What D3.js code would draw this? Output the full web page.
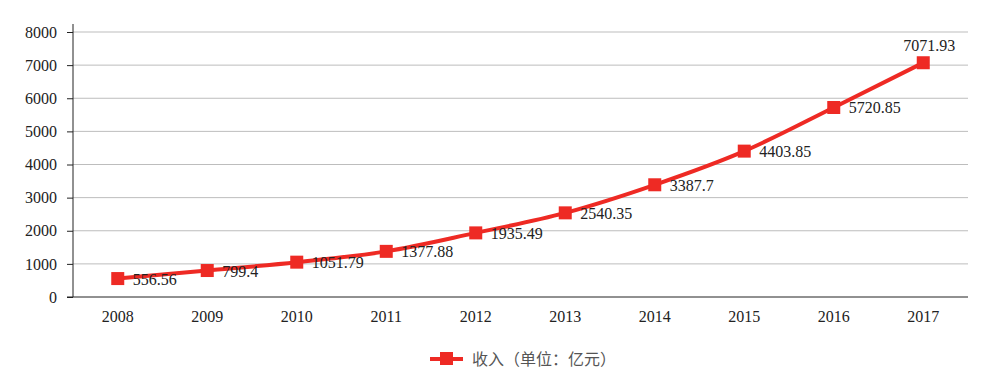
<!DOCTYPE html>
<html>
<head>
<meta charset="utf-8">
<script src="https://cdn.jsdelivr.net/npm/d3@7"></script>
<style>
  body { margin: 0; background: #fff; }
  svg { display: block; }
</style>
</head>
<body>
<div id="chart"></div>
<script>
const years = ['2008', '2009', '2010', '2011', '2012', '2013', '2014', '2015', '2016', '2017'];
const revenue = [556.56, 799.4, 1051.79, 1377.88, 1935.49, 2540.35, 3387.7, 4403.85, 5720.85, 7071.93];
const yTicks = [0, 1000, 2000, 3000, 4000, 5000, 6000, 7000, 8000];
const seriesName = '收入（单位：亿元）';

const width = 996, height = 389;
const margin = { left: 73, right: 28, top: 32, bottom: 92 };
const red = '#ee2a24';
const serif = '"Liberation Serif", "DejaVu Serif", serif';

const svg = d3.select('#chart').append('svg')
  .attr('width', width)
  .attr('height', height);

const x = d3.scaleBand()
  .domain(years)
  .range([margin.left, width - margin.right]);

const y = d3.scaleLinear()
  .domain([0, 8000])
  .range([height - margin.bottom, margin.top]);

// grid lines
svg.append('g')
  .selectAll('line')
  .data(yTicks.filter(d => d > 0))
  .enter()
  .append('line')
  .attr('x1', margin.left)
  .attr('x2', width - margin.right)
  .attr('y1', d => y(d))
  .attr('y2', d => y(d))
  .attr('stroke', '#bdbdbd')
  .attr('stroke-width', 1);

// y axis
const yAxis = svg.append('g')
  .attr('transform', `translate(${margin.left},0)`)
  .call(d3.axisLeft(y).tickValues(yTicks).tickSize(6).tickPadding(10).tickFormat(d3.format('d')));
yAxis.select('.domain').attr('d', `M0,${margin.top - 8}V${y(0)}`).attr('stroke', '#222');
yAxis.selectAll('.tick line').attr('stroke', '#222');
yAxis.selectAll('text').attr('font-family', serif).attr('font-size', 16).attr('fill', '#222');

// x axis
const xAxis = svg.append('g')
  .attr('transform', `translate(0,${y(0)})`)
  .call(d3.axisBottom(x).tickSize(0).tickPadding(14));
xAxis.select('.domain').attr('d', `M${margin.left - 6},0H${width - margin.right}`).attr('stroke', '#222');
xAxis.selectAll('text').attr('font-family', serif).attr('font-size', 16).attr('fill', '#222');

const cx = d => x(d) + x.bandwidth() / 2;

// line
const line = d3.line()
  .x((d, i) => cx(years[i]))
  .y(d => y(d))
  .curve(d3.curveMonotoneX);

svg.append('path')
  .datum(revenue)
  .attr('d', line)
  .attr('fill', 'none')
  .attr('stroke', red)
  .attr('stroke-width', 4);

// markers
const m = 13;
svg.append('g')
  .selectAll('rect')
  .data(revenue)
  .enter()
  .append('rect')
  .attr('x', (d, i) => cx(years[i]) - m / 2)
  .attr('y', d => y(d) - m / 2)
  .attr('width', m)
  .attr('height', m)
  .attr('fill', red);

// value labels
const last = revenue.length - 1;
svg.append('g')
  .selectAll('text')
  .data(revenue)
  .enter()
  .append('text')
  .attr('x', (d, i) => i === last ? cx(years[i]) + 6 : cx(years[i]) + 15)
  .attr('y', (d, i) => i === last ? y(d) - 12 : y(d) + 6)
  .attr('text-anchor', (d, i) => i === last ? 'middle' : 'start')
  .attr('font-family', serif)
  .attr('font-size', 16)
  .attr('fill', '#222')
  .text(d => d);

// legend
const lg = svg.append('g').attr('transform', 'translate(430,359)');
lg.append('line')
  .attr('x1', 0).attr('x2', 33)
  .attr('y1', 0).attr('y2', 0)
  .attr('stroke', red).attr('stroke-width', 4);
lg.append('rect')
  .attr('x', 10).attr('y', -7)
  .attr('width', 13).attr('height', 13)
  .attr('fill', red);
lg.append('text')
  .attr('x', 42).attr('y', 6)
  .attr('font-family', '"Noto Sans CJK SC", sans-serif')
  .attr('font-size', 16)
  .attr('fill', '#555')
  .text(seriesName);
</script>
</body>
</html>
